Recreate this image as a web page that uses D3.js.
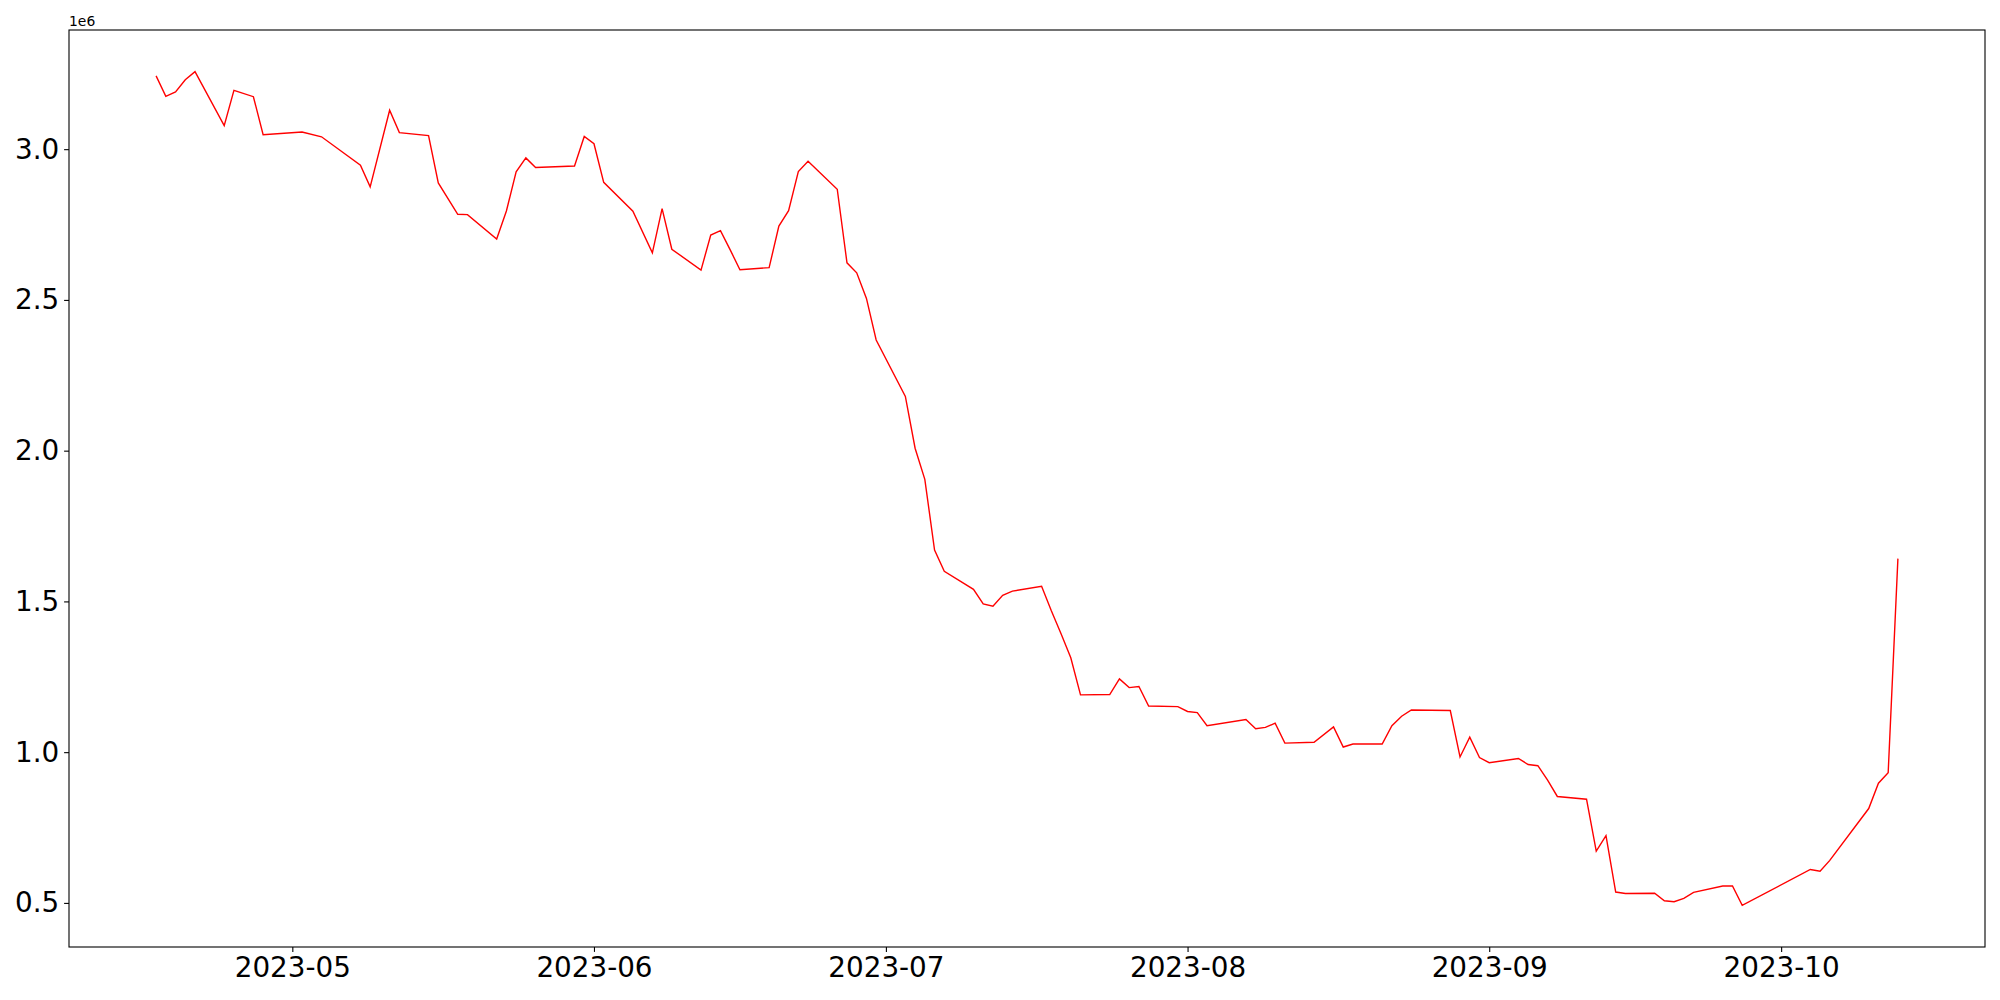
<!DOCTYPE html>
<html>
<head>
<meta charset="utf-8">
<script src="https://cdn.jsdelivr.net/npm/d3@7"></script>
<style>
  body { margin: 0; background: #fff; }
  svg text { font-family: "DejaVu Sans", sans-serif; fill: #000; }
</style>
</head>
<body>
<div id="chart"></div>
<script>
// Series: trading days and values (plotted with a 1e6 offset on the y axis)
const dates = [
  '2023-04-17','2023-04-18','2023-04-19','2023-04-20','2023-04-21',
  '2023-04-24','2023-04-25','2023-04-27','2023-04-28',
  '2023-05-02','2023-05-04','2023-05-08','2023-05-09','2023-05-11','2023-05-12',
  '2023-05-15','2023-05-16','2023-05-18','2023-05-19',
  '2023-05-22','2023-05-23','2023-05-24','2023-05-25','2023-05-26',
  '2023-05-30','2023-05-31','2023-06-01','2023-06-02',
  '2023-06-05','2023-06-07','2023-06-08','2023-06-09',
  '2023-06-12','2023-06-13','2023-06-14','2023-06-15','2023-06-16',
  '2023-06-19','2023-06-20','2023-06-21','2023-06-22','2023-06-23',
  '2023-06-26','2023-06-27','2023-06-28','2023-06-29','2023-06-30',
  '2023-07-03','2023-07-04','2023-07-05','2023-07-06','2023-07-07',
  '2023-07-10','2023-07-11','2023-07-12','2023-07-13','2023-07-14',
  '2023-07-17','2023-07-18','2023-07-19','2023-07-20','2023-07-21',
  '2023-07-24','2023-07-25','2023-07-26','2023-07-27','2023-07-28',
  '2023-07-31','2023-08-01','2023-08-02','2023-08-03',
  '2023-08-07','2023-08-08','2023-08-09','2023-08-10','2023-08-11',
  '2023-08-14','2023-08-16','2023-08-17','2023-08-18',
  '2023-08-21','2023-08-22','2023-08-23','2023-08-24',
  '2023-08-28','2023-08-29','2023-08-30','2023-08-31','2023-09-01',
  '2023-09-04','2023-09-05','2023-09-06','2023-09-07','2023-09-08',
  '2023-09-11','2023-09-12','2023-09-13','2023-09-14','2023-09-15',
  '2023-09-18','2023-09-19','2023-09-20','2023-09-21','2023-09-22',
  '2023-09-25','2023-09-26','2023-09-27',
  '2023-10-04','2023-10-05','2023-10-06',
  '2023-10-10','2023-10-11','2023-10-12','2023-10-13'
];

// values in millions
const valuesM = [
  3.243, 3.175, 3.190, 3.230, 3.257,
  3.078, 3.195, 3.174, 3.048,
  3.057, 3.041, 2.947, 2.875, 3.129, 3.055,
  3.045, 2.888, 2.784, 2.783,
  2.702, 2.795, 2.925, 2.971, 2.939,
  2.944, 3.042, 3.018, 2.890,
  2.794, 2.656, 2.803, 2.668,
  2.599, 2.715, 2.730, 2.666, 2.600,
  2.607, 2.745, 2.796, 2.926, 2.960,
  2.867, 2.623, 2.590, 2.505, 2.367,
  2.180, 2.008, 1.905, 1.670, 1.600,
  1.540, 1.492, 1.484, 1.520, 1.534,
  1.550, 1.469, 1.393, 1.313, 1.190,
  1.191, 1.243, 1.214, 1.218, 1.153,
  1.151, 1.135, 1.131, 1.088,
  1.108, 1.078, 1.082, 1.096, 1.030,
  1.033, 1.084, 1.017, 1.027,
  1.027, 1.088, 1.119, 1.140,
  1.138, 0.984, 1.050, 0.982, 0.965,
  0.979, 0.959, 0.955, 0.907, 0.853,
  0.844, 0.672, 0.723, 0.536, 0.531,
  0.532, 0.507, 0.504, 0.515, 0.535,
  0.556, 0.556, 0.492,
  0.611, 0.605, 0.641,
  0.813, 0.897, 0.932, 1.642
];

const xTickDates = ['2023-05-01','2023-06-01','2023-07-01','2023-08-01','2023-09-01','2023-10-01'];
const yTickValues = [0.5e6, 1.0e6, 1.5e6, 2.0e6, 2.5e6, 3.0e6];

const width = 2000;
const height = 1000;
const margin = {top: 30, right: 15, bottom: 53, left: 69};
const tickSize = 4.9;
const tickPad = 4.9;

const parse = d3.timeParse('%Y-%m-%d');
const data = dates.map((d, i) => ({date: parse(d), value: valuesM[i] * 1e6}));

// matplotlib-like 5% padding around the data extent
const pad = (ext) => {
  const span = ext[1] - ext[0];
  return [ext[0] - span * 0.05, ext[1] + span * 0.05];
};
const xExt = d3.extent(data, d => +d.date);
const yExt = d3.extent(data, d => d.value);

const x = d3.scaleTime()
  .domain(pad(xExt).map(t => new Date(t)))
  .range([margin.left, width - margin.right]);

const y = d3.scaleLinear()
  .domain(pad(yExt))
  .range([height - margin.bottom, margin.top]);

const svg = d3.select('#chart').append('svg')
  .attr('width', width)
  .attr('height', height);

// the line
const line = d3.line()
  .x(d => x(d.date))
  .y(d => y(d.value));

svg.append('path')
  .datum(data)
  .attr('fill', 'none')
  .attr('stroke', '#ff0000')
  .attr('stroke-width', 1.4)
  .attr('stroke-linejoin', 'miter')
  .attr('d', line);

// axes
const xAxis = d3.axisBottom(x)
  .tickValues(xTickDates.map(parse))
  .tickFormat(d3.timeFormat('%Y-%m'))
  .tickSize(tickSize)
  .tickPadding(tickPad);

const yAxis = d3.axisLeft(y)
  .tickValues(yTickValues)
  .tickFormat(v => (v / 1e6).toFixed(1))
  .tickSize(tickSize)
  .tickPadding(tickPad);

const gx = svg.append('g')
  .attr('transform', `translate(0,${height - margin.bottom})`)
  .call(xAxis);

const gy = svg.append('g')
  .attr('transform', `translate(${margin.left},0)`)
  .call(yAxis);

[gx, gy].forEach(g => {
  g.select('.domain').remove();
  g.selectAll('.tick line').attr('stroke', '#000').attr('stroke-width', 1.1);
  g.selectAll('.tick text')
    .attr('fill', '#000')
    .style('font-family', '"DejaVu Sans", sans-serif')
    .style('font-size', '27.8px');
});

// frame (all four spines)
svg.append('rect')
  .attr('x', margin.left)
  .attr('y', margin.top)
  .attr('width', width - margin.left - margin.right)
  .attr('height', height - margin.top - margin.bottom)
  .attr('fill', 'none')
  .attr('stroke', '#000')
  .attr('stroke-width', 1.1);

// offset text
svg.append('text')
  .attr('x', margin.left)
  .attr('y', margin.top - 4)
  .style('font-size', '13.9px')
  .text('1e6');
</script>
</body>
</html>
